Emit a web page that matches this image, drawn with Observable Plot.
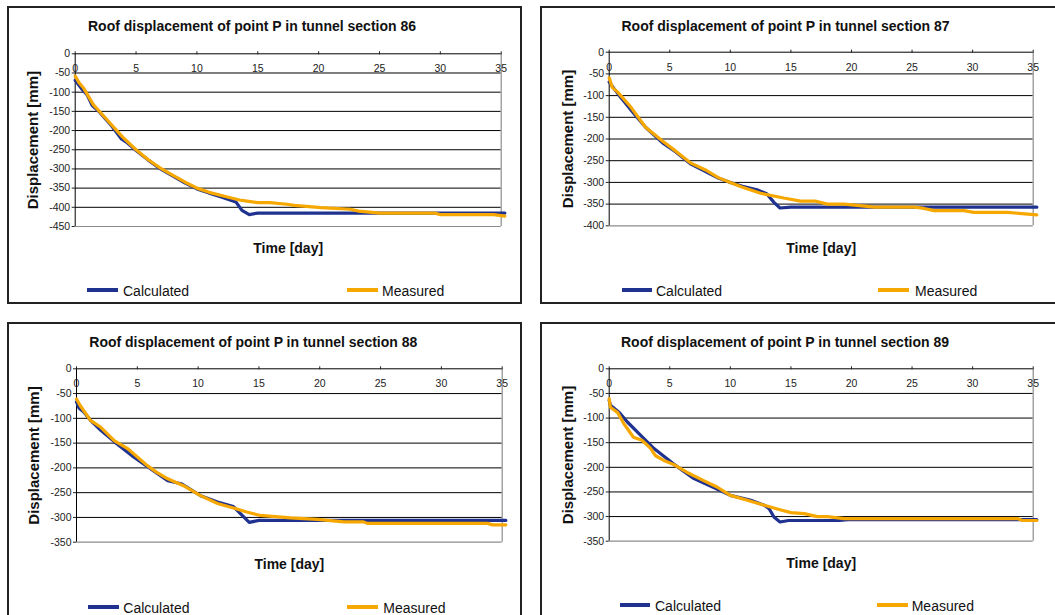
<!DOCTYPE html>
<html>
<head>
<meta charset="utf-8">
<script src="https://cdn.jsdelivr.net/npm/d3@7"></script>
<script src="https://cdn.jsdelivr.net/npm/@observablehq/plot@0.6"></script>
<style>
  html, body { margin: 0; padding: 0; background: #fff; }
  #page { position: relative; width: 1055px; height: 615px; overflow: hidden; background: #fff;
          font-family: "Liberation Sans", Arial, sans-serif; color: #111; }
  .box { position: absolute; border: 2px solid #222; box-sizing: border-box; }
  .title { position: absolute; transform: translate(-50%, -50%); white-space: nowrap; font-weight: bold; font-size: 14px; line-height: 1; }
  .plot { position: absolute; }
  .swatch { position: absolute; height: 4px; }
  .legtext { position: absolute; transform: translateY(-50%); font-size: 14px; line-height: 1; white-space: nowrap; }
</style>
</head>
<body>
<div id="page"></div>
<script>
// ---- data (day, displacement in mm) ----
const xTicks = [0, 5, 10, 15, 20, 25, 30, 35];
const yTicks86 = [0, -50, -100, -150, -200, -250, -300, -350, -400, -450];
const yTicks87 = [0, -50, -100, -150, -200, -250, -300, -350, -400];
const yTicks88 = [0, -50, -100, -150, -200, -250, -300, -350];
const yTicks89 = [0, -50, -100, -150, -200, -250, -300, -350];

const sectionNames = ["86", "87", "88", "89"];
const seriesNames = ["Calculated", "Measured"];

const calc86 = [[0,-69],[0.5,-90],[1,-108],[1.4,-135],[2,-152],[3,-188],[3.8,-222],[4.2,-230],[5,-252],[6,-277],[7,-300],[8,-318],[9,-336],[10,-352],[11,-363],[12,-373],[13.2,-386],[13.7,-408],[14.3,-419],[15,-415],[35.3,-415]];
const meas86 = [[0,-58],[0.3,-75],[0.7,-90],[1.5,-133],[2.5,-168],[3.9,-217],[5,-250],[6,-276],[7,-298],[8,-316],[9,-334],[10,-350],[11,-361],[12.5,-373],[13.5,-381],[14.1,-384],[15,-388],[16,-388],[17.4,-392],[18,-395],[20.2,-401],[22.6,-405],[23.3,-410],[25,-415],[29.5,-415],[30,-419],[34.4,-419],[35.3,-423]];

const calc87 = [[0,-69],[0.94,-104],[2,-140],[3,-173],[4.5,-211],[5.5,-230],[6.7,-257],[7.8,-273],[9,-290],[10,-300],[11,-309],[12.2,-317],[13,-326],[13.6,-346],[14.1,-359],[15,-357],[35.3,-357]];
const meas87 = [[0,-59],[0.25,-81],[0.7,-92],[1.8,-127],[3,-173],[4.5,-207],[5.5,-228],[6.7,-255],[8,-272],[9,-289],[10,-300],[11,-311],[12.5,-325],[14.4,-336],[15.8,-343],[17,-343],[18,-350],[19.4,-350],[21.9,-357],[25.2,-357],[26,-360],[26.8,-365],[29.3,-365],[30.1,-369],[32.9,-369],[35.3,-375]];

const calc88 = [[0,-67],[0.2,-79],[0.6,-87],[1.15,-104],[2,-124],[3.1,-147],[4.7,-178],[6.4,-207],[7.5,-226],[8.6,-232],[10.2,-256],[11.6,-269],[12.9,-278],[13.5,-293],[14.2,-310],[15,-306],[35.3,-306]];
const meas88 = [[0,-61],[0.3,-74],[1.15,-104],[2,-118],[3.1,-145],[4.2,-161],[5.8,-195],[6.6,-209],[7.5,-222],[8.8,-236],[10.2,-256],[11.6,-272],[12.9,-281],[14,-289],[15.1,-296],[17.6,-301],[19.8,-304],[22,-309],[23.6,-309],[23.9,-312],[33.8,-312],[34.2,-315],[35.3,-315]];

const calc89 = [[0,-64],[0.1,-74],[0.8,-88],[1.5,-108],[2.6,-135],[3.7,-162],[5.3,-193],[7,-223],[8.9,-244],[10,-257],[11.7,-267],[12.8,-277],[13.2,-284],[13.6,-301],[14.1,-311],[14.8,-308],[19,-308],[20,-306],[35.3,-306]];
const meas89 = [[0,-61],[0.1,-78],[0.7,-89],[1.2,-111],[2,-139],[2.7,-145],[3.4,-161],[3.8,-176],[4.5,-186],[5.3,-194],[6.4,-210],[7.8,-227],[8.9,-240],[10,-257],[11.4,-267],[12.8,-277],[14.1,-286],[15,-292],[16.1,-294],[17.2,-300],[18,-300],[19.4,-304],[33.7,-304],[34.1,-308],[35.3,-308]];

// ---- layout ----
const BLUE = "#1f3290";
const ORANGE = "#f6a800";
const FONT = "'Liberation Sans', Arial, sans-serif";

const panels = [
  { name: sectionNames[0], calc: calc86, meas: meas86, yTicks: yTicks86,
    box: {x: 7, y: 6, w: 515, h: 298}, plot: {x0: 74.7, x1: 500.7, y0: 53.3, y1: 226},
    title: {x: 252, y: 26}, ydx: -42, xdy: 22,
    leg: {y: 290, c0: 87, c1: 118, ct: 123, m0: 347, m1: 378, mt: 382} },
  { name: sectionNames[1], calc: calc87, meas: meas87, yTicks: yTicks87,
    box: {x: 540, y: 6, w: 540, h: 298}, plot: {x0: 608.7, x1: 1032.7, y0: 51.7, y1: 225.3},
    title: {x: 785.5, y: 26}, ydx: -41.5, xdy: 23,
    leg: {y: 290, c0: 621.7, c1: 651.7, ct: 656, m0: 878.3, m1: 909.3, mt: 915} },
  { name: sectionNames[2], calc: calc88, meas: meas88, yTicks: yTicks88,
    box: {x: 7, y: 322, w: 515, h: 310}, plot: {x0: 76, x1: 501.7, y0: 368.3, y1: 541.7},
    title: {x: 253.3, y: 341.7}, ydx: -42.7, xdy: 22.6,
    leg: {y: 607.3, c0: 88.3, c1: 119, ct: 123.3, m0: 346.7, m1: 378.3, mt: 383.3} },
  { name: sectionNames[3], calc: calc89, meas: meas89, yTicks: yTicks89,
    box: {x: 540, y: 322, w: 540, h: 310}, plot: {x0: 608.7, x1: 1032.7, y0: 368.3, y1: 540.7},
    title: {x: 785, y: 342.3}, ydx: -41.4, xdy: 22,
    leg: {y: 605, c0: 620, c1: 650, ct: 655, m0: 876.7, m1: 907.7, mt: 911.7} }
];

const page = document.getElementById("page");

function el(tag, cls, style, text) {
  const e = document.createElement(tag);
  if (cls) e.className = cls;
  Object.assign(e.style, style);
  if (text != null) e.textContent = text;
  page.appendChild(e);
  return e;
}

for (const p of panels) {
  const yMin = d3.min(p.yTicks);
  el("div", "box", {left: p.box.x + "px", top: p.box.y + "px", width: p.box.w + "px", height: p.box.h + "px"});

  const chart = Plot.plot({
    width: p.box.w,
    height: p.box.h,
    marginLeft: p.plot.x0 - p.box.x,
    marginRight: p.box.x + p.box.w - p.plot.x1,
    marginTop: p.plot.y0 - p.box.y,
    marginBottom: p.box.y + p.box.h - p.plot.y1,
    x: {domain: [0, 35]},
    y: {domain: [yMin, 0]},
    style: {fontFamily: FONT, fontSize: "10.5px", color: "#222", background: "transparent", overflow: "visible"},
    marks: [
      Plot.ruleY(p.yTicks.filter(v => v < 0 && v > yMin), {stroke: "#000", strokeWidth: 1}),
      Plot.ruleY([yMin], {stroke: "#8c8c8c", strokeWidth: 1.2}),
      Plot.ruleX([35], {stroke: "#8c8c8c", strokeWidth: 1.2}),
      Plot.ruleX([0], {stroke: "#000"}),
      Plot.ruleY([0], {stroke: "#000"}),
      Plot.axisY({ticks: p.yTicks, tickSize: 3, tickPadding: 2, label: null, tickFormat: d => String(d), fontSize: 10.5}),
      Plot.axisX({anchor: "top", ticks: xTicks, tickSize: 3, label: null, tickFormat: () => ""}),
      Plot.text(xTicks, {x: d => d, y: () => 0, dy: 15, text: d => String(d), fontSize: 10.5, fill: "#222"}),
      Plot.line(p.calc, {x: d => d[0], y: d => d[1], stroke: BLUE, strokeWidth: 3.2, strokeLinejoin: "round"}),
      Plot.line(p.meas, {x: d => d[0], y: d => d[1], stroke: ORANGE, strokeWidth: 3.2, strokeLinejoin: "round"}),
      Plot.text(["Time [day]"], {frameAnchor: "bottom", dy: p.xdy, text: d => d, textAnchor: "middle", lineAnchor: "middle", fontWeight: "bold", fontSize: 14, fill: "#111"}),
      Plot.text(["Displacement [mm]"], {frameAnchor: "left", dx: p.ydx, rotate: -90, text: d => d, textAnchor: "middle", lineAnchor: "middle", fontWeight: "bold", fontSize: 15, fill: "#111"})
    ]
  });
  chart.classList.add("plot");
  chart.style.left = p.box.x + "px";
  chart.style.top = p.box.y + "px";
  page.appendChild(chart);

  el("div", "title", {left: p.title.x + "px", top: p.title.y + "px"}, "Roof displacement of point P in tunnel section " + p.name);

  el("div", "swatch", {left: p.leg.c0 + "px", top: (p.leg.y - 2) + "px", width: (p.leg.c1 - p.leg.c0) + "px", background: BLUE});
  el("div", "legtext", {left: p.leg.ct + "px", top: (p.leg.y + 1) + "px"}, seriesNames[0]);
  el("div", "swatch", {left: p.leg.m0 + "px", top: (p.leg.y - 2) + "px", width: (p.leg.m1 - p.leg.m0) + "px", background: ORANGE});
  el("div", "legtext", {left: p.leg.mt + "px", top: (p.leg.y + 1) + "px"}, seriesNames[1]);
}
</script>
</body>
</html>
